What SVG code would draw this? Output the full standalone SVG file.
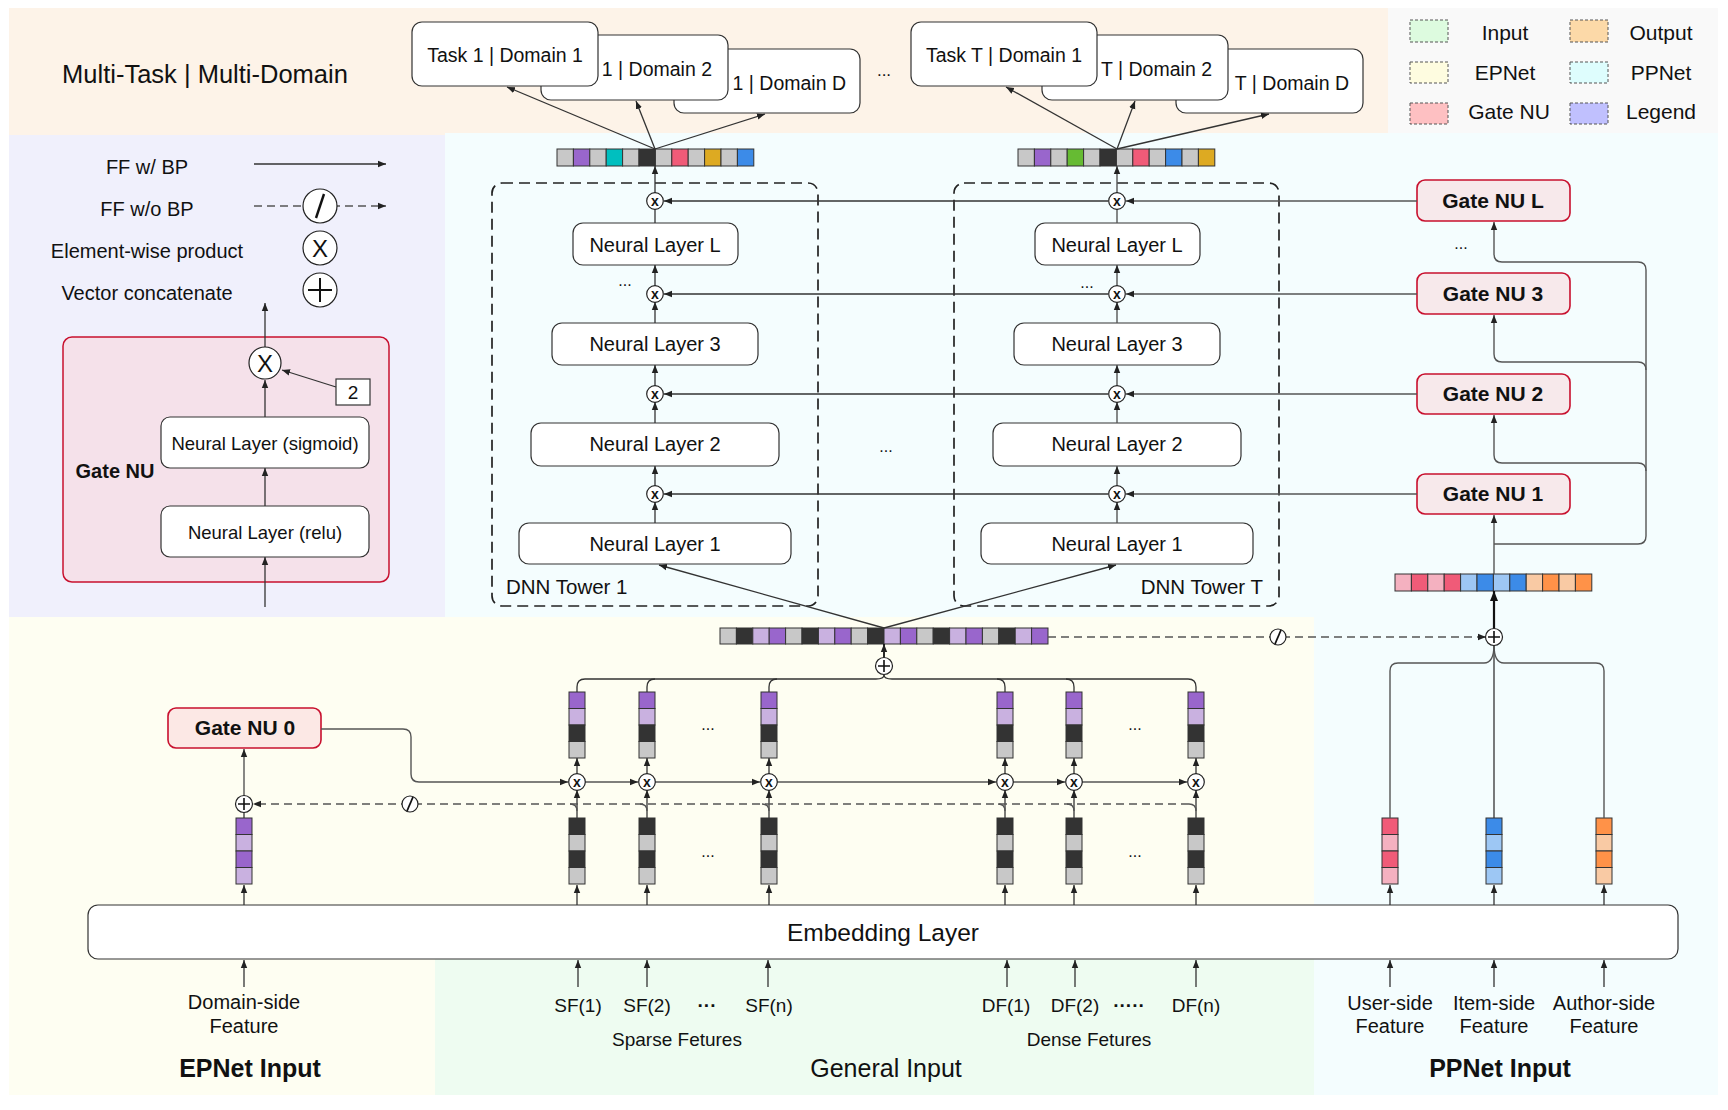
<svg xmlns="http://www.w3.org/2000/svg" width="1728" height="1110" viewBox="0 0 1728 1110">
<defs>
<marker id="ah" viewBox="0 0 10 10" refX="10" refY="5" markerWidth="8" markerHeight="8" markerUnits="userSpaceOnUse" orient="auto"><path d="M0,1 L10,5 L0,9 z" fill="#222"/></marker>
<marker id="ahb" viewBox="0 0 10 10" refX="10" refY="5" markerWidth="10" markerHeight="10" markerUnits="userSpaceOnUse" orient="auto"><path d="M0,1 L10,5 L0,9 z" fill="#111"/></marker>
</defs>
<style>
text{font-family:"Liberation Sans",Arial,Helvetica,sans-serif;fill:#111}
.t20{font-size:20px}
.t19{font-size:19px}
.mid{text-anchor:middle}
.end{text-anchor:end}
.b{font-weight:bold}
.ln{fill:none;stroke:#333;stroke-width:1.3}
.lg{fill:none;stroke:#555;stroke-width:1.4}
.dash{fill:none;stroke:#555;stroke-width:1.5;stroke-dasharray:8 5}
.box{fill:#fff;stroke:#333;stroke-width:1.2}
.gate{fill:#F7E9EB;stroke:#C8102E;stroke-width:1.6}
.cir{fill:#fff;stroke:#222;stroke-width:1.2}
.c{stroke:#333;stroke-width:1}
.G{fill:#C8C8C8}.P{fill:#9966CC}.T{fill:#00BFBF}.D{fill:#333333}.R{fill:#F05B78}.Y{fill:#DDAA22}.B{fill:#3C8BE8}.Gr{fill:#66BB33}.LP{fill:#C9B1E0}.LR{fill:#F4B1C0}.LB{fill:#9DC7F4}.O{fill:#FF9248}.LO{fill:#F9CAA4}
.sw{stroke:#555;stroke-width:1;stroke-dasharray:3 2}
.xs{font-size:14px;font-weight:bold;text-anchor:middle}
</style>

<g id="backgrounds">
<rect x="9" y="8" width="1379" height="127" fill="#FDF3E8"/>
<rect x="1388" y="8" width="330" height="125" fill="#F9F9F9"/>
<rect x="9" y="135" width="436" height="482" fill="#F0F0FC"/>
<rect x="445" y="133" width="1273" height="484" fill="#F4FDFE"/>
<rect x="1314" y="617" width="404" height="478" fill="#F4FDFE"/>
<rect x="9" y="617" width="1305" height="478" fill="#FEFEF2"/>
<rect x="435" y="906" width="879" height="189" fill="#EEFCF1"/>
</g>

<g id="title"><text x="205" y="83" class="mid" font-size="25.5">Multi-Task | Multi-Domain</text></g>

<g id="legend-colors">
<rect x="1410" y="20" width="38" height="22" fill="#DDFBDF" class="sw"/><text x="1505" y="40" class="mid" font-size="21">Input</text>
<rect x="1570" y="20" width="38" height="22" fill="#FCD9A8" class="sw"/><text x="1661" y="40" class="mid" font-size="21">Output</text>
<rect x="1410" y="62" width="38" height="21" fill="#FEFCE0" class="sw"/><text x="1505" y="80" class="mid" font-size="21">EPNet</text>
<rect x="1570" y="62" width="38" height="21" fill="#DEFDFD" class="sw"/><text x="1661" y="80" class="mid" font-size="21">PPNet</text>
<rect x="1410" y="103" width="38" height="21" fill="#FEC0C2" class="sw"/><text x="1509" y="119" class="mid" font-size="21">Gate NU</text>
<rect x="1570" y="103" width="38" height="21" fill="#C0C0FE" class="sw"/><text x="1661" y="119" class="mid" font-size="21">Legend</text>
</g>

<g id="legend">
<text x="147" y="174" class="mid t20">FF w/ BP</text>
<line x1="254" y1="164" x2="386" y2="164" class="ln" marker-end="url(#ah)"/>
<text x="147" y="216" class="mid t20">FF w/o BP</text>
<line x1="254" y1="206" x2="386" y2="206" class="dash" stroke="#333" marker-end="url(#ah)"/>
<circle cx="320" cy="206" r="17" class="cir"/>
<line x1="316" y1="218" x2="324" y2="194" stroke="#111" stroke-width="2.4"/>
<text x="147" y="258" class="mid t20">Element-wise product</text>
<circle cx="320" cy="248" r="17" class="cir"/>
<text x="320" y="257" class="mid" font-size="24">X</text>
<text x="147" y="300" class="mid t20">Vector concatenate</text>
<circle cx="320" cy="290" r="17" class="cir"/>
<path d="M308 290 H332 M320 278 V302" stroke="#111" stroke-width="2"/>
</g>

<g id="gate-nu-legend">
<rect x="63" y="337" width="326" height="245" rx="9" fill="#F5E1EA" stroke="#C8102E" stroke-width="1.5"/>
<text x="115" y="478" class="mid b t20">Gate NU</text>
<line x1="265" y1="347" x2="265" y2="303" class="ln" marker-end="url(#ah)"/>
<circle cx="265" cy="363" r="16" class="cir"/>
<text x="265" y="372" class="mid" font-size="24">X</text>
<rect x="336" y="379" width="34" height="26" fill="#fff" stroke="#333" stroke-width="1.2"/>
<text x="353" y="399" class="mid t19">2</text>
<line x1="336" y1="387" x2="282" y2="370" class="ln" marker-end="url(#ah)"/>
<rect x="161" y="417" width="208" height="51" rx="9" class="box"/>
<text x="265" y="450" class="mid" font-size="18.5">Neural Layer (sigmoid)</text>
<line x1="265" y1="417" x2="265" y2="380" class="ln" marker-end="url(#ah)"/>
<rect x="161" y="506" width="208" height="51" rx="9" class="box"/>
<text x="265" y="539" class="mid" font-size="18.5">Neural Layer (relu)</text>
<line x1="265" y1="506" x2="265" y2="468" class="ln" marker-end="url(#ah)"/>
<line x1="265" y1="607" x2="265" y2="557" class="ln" marker-end="url(#ah)"/>
</g>

<g id="outputs">
<rect x="674" y="49" width="186" height="64" rx="10" class="box"/><text x="846" y="90" class="end" font-size="19.5">1 | Domain D</text>
<rect x="541" y="35" width="187" height="65" rx="10" class="box"/><text x="712" y="76" class="end" font-size="19.5">1 | Domain 2</text>
<rect x="412" y="22" width="186" height="64" rx="10" class="box"/><text x="505" y="62" class="mid" font-size="19.5">Task 1 | Domain 1</text>
<rect x="1176" y="49" width="187" height="64" rx="10" class="box"/><text x="1349" y="90" class="end" font-size="19.5">T | Domain D</text>
<rect x="1042" y="35" width="186" height="65" rx="10" class="box"/><text x="1212" y="76" class="end" font-size="19.5">T | Domain 2</text>
<rect x="911" y="22" width="186" height="64" rx="10" class="box"/><text x="1004" y="62" class="mid" font-size="19.5">Task T | Domain 1</text>
<text x="884" y="76" class="mid" font-size="17">...</text>
</g>

<g id="vectors-top">
<g transform="translate(557,149)">
<rect x="0" width="16.4" height="17" class="c G"/><rect x="16.4" width="16.4" height="17" class="c P"/><rect x="32.8" width="16.4" height="17" class="c G"/><rect x="49.2" width="16.4" height="17" class="c T"/><rect x="65.6" width="16.4" height="17" class="c G"/><rect x="82" width="16.4" height="17" class="c D"/><rect x="98.4" width="16.4" height="17" class="c G"/><rect x="114.8" width="16.4" height="17" class="c R"/><rect x="131.2" width="16.4" height="17" class="c G"/><rect x="147.6" width="16.4" height="17" class="c Y"/><rect x="164" width="16.4" height="17" class="c G"/><rect x="180.4" width="16.4" height="17" class="c B"/>
</g>
<g transform="translate(1018,149)">
<rect x="0" width="16.4" height="17" class="c G"/><rect x="16.4" width="16.4" height="17" class="c P"/><rect x="32.8" width="16.4" height="17" class="c G"/><rect x="49.2" width="16.4" height="17" class="c Gr"/><rect x="65.6" width="16.4" height="17" class="c G"/><rect x="82" width="16.4" height="17" class="c D"/><rect x="98.4" width="16.4" height="17" class="c G"/><rect x="114.8" width="16.4" height="17" class="c R"/><rect x="131.2" width="16.4" height="17" class="c G"/><rect x="147.6" width="16.4" height="17" class="c B"/><rect x="164" width="16.4" height="17" class="c G"/><rect x="180.4" width="16.4" height="17" class="c Y"/>
</g>
<g transform="translate(1395,574)">
<rect x="0" width="16.4" height="17" class="c LR"/><rect x="16.4" width="16.4" height="17" class="c R"/><rect x="32.8" width="16.4" height="17" class="c LR"/><rect x="49.2" width="16.4" height="17" class="c R"/><rect x="65.6" width="16.4" height="17" class="c LB"/><rect x="82" width="16.4" height="17" class="c B"/><rect x="98.4" width="16.4" height="17" class="c LB"/><rect x="114.8" width="16.4" height="17" class="c B"/><rect x="131.2" width="16.4" height="17" class="c LO"/><rect x="147.6" width="16.4" height="17" class="c O"/><rect x="164" width="16.4" height="17" class="c LO"/><rect x="180.4" width="16.4" height="17" class="c O"/>
</g>
<g transform="translate(720,628)">
<rect x="0" width="16.4" height="16" class="c G"/><rect x="16.4" width="16.4" height="16" class="c D"/><rect x="32.8" width="16.4" height="16" class="c LP"/><rect x="49.2" width="16.4" height="16" class="c P"/><rect x="65.6" width="16.4" height="16" class="c G"/><rect x="82" width="16.4" height="16" class="c D"/><rect x="98.4" width="16.4" height="16" class="c LP"/><rect x="114.8" width="16.4" height="16" class="c P"/><rect x="131.2" width="16.4" height="16" class="c G"/><rect x="147.6" width="16.4" height="16" class="c D"/><rect x="164" width="16.4" height="16" class="c LP"/><rect x="180.4" width="16.4" height="16" class="c P"/><rect x="196.8" width="16.4" height="16" class="c G"/><rect x="213.2" width="16.4" height="16" class="c D"/><rect x="229.6" width="16.4" height="16" class="c LP"/><rect x="246" width="16.4" height="16" class="c P"/><rect x="262.4" width="16.4" height="16" class="c G"/><rect x="278.8" width="16.4" height="16" class="c D"/><rect x="295.2" width="16.4" height="16" class="c LP"/><rect x="311.6" width="16.4" height="16" class="c P"/>
</g>
</g>

<g id="tower-1">
<rect x="492" y="183" width="326" height="423" rx="10" fill="none" stroke="#222" stroke-width="1.7" stroke-dasharray="11 6"/>
<rect x="573" y="223" width="165" height="42" rx="10" class="box"/><text x="655" y="252" class="mid t20">Neural Layer L</text>
<rect x="552" y="323" width="206" height="42" rx="10" class="box"/><text x="655" y="351" class="mid t20">Neural Layer 3</text>
<rect x="531" y="423" width="248" height="43" rx="10" class="box"/><text x="655" y="451" class="mid t20">Neural Layer 2</text>
<rect x="519" y="523" width="272" height="41" rx="10" class="box"/><text x="655" y="551" class="mid t20">Neural Layer 1</text>
<text x="625" y="286" class="mid" font-size="16">...</text>
<text x="506" y="594" font-size="20.5">DNN Tower 1</text>
</g>
<g id="tower-T">
<rect x="954" y="183" width="325" height="423" rx="10" fill="none" stroke="#222" stroke-width="1.7" stroke-dasharray="11 6"/>
<rect x="1035" y="223" width="165" height="42" rx="10" class="box"/><text x="1117" y="252" class="mid t20">Neural Layer L</text>
<rect x="1014" y="323" width="206" height="42" rx="10" class="box"/><text x="1117" y="351" class="mid t20">Neural Layer 3</text>
<rect x="993" y="423" width="248" height="43" rx="10" class="box"/><text x="1117" y="451" class="mid t20">Neural Layer 2</text>
<rect x="981" y="523" width="272" height="41" rx="10" class="box"/><text x="1117" y="551" class="mid t20">Neural Layer 1</text>
<text x="1087" y="288" class="mid" font-size="16">...</text>
<text x="1263" y="594" class="end" font-size="20.5">DNN Tower T</text>
</g>
<text x="886" y="452" class="mid" font-size="16">...</text>

<g id="gates">
<rect x="1417" y="180" width="153" height="41" rx="8" class="gate"/><text x="1493" y="208" class="mid b" font-size="21">Gate NU L</text>
<text x="1461" y="249" class="mid" font-size="16">...</text>
<rect x="1417" y="273" width="153" height="41" rx="8" class="gate"/><text x="1493" y="301" class="mid b" font-size="21">Gate NU 3</text>
<rect x="1417" y="374" width="153" height="40" rx="8" class="gate"/><text x="1493" y="401" class="mid b" font-size="21">Gate NU 2</text>
<rect x="1417" y="474" width="153" height="40" rx="8" class="gate"/><text x="1493" y="501" class="mid b" font-size="21">Gate NU 1</text>
<rect x="168" y="708" width="153" height="40" rx="8" fill="#FCE8E5" stroke="#C8102E" stroke-width="1.6"/><text x="245" y="735" class="mid b" font-size="21">Gate NU 0</text>
</g>

<g id="embedding">
<rect x="88" y="905" width="1590" height="54" rx="10" class="box"/>
<text x="883" y="941" class="mid" font-size="24.5">Embedding Layer</text>
</g>

<g id="vectors-vertical">
<g transform="translate(236,818)"><rect width="16" height="16.5" class="c P"/><rect y="16.5" width="16" height="16.5" class="c LP"/><rect y="33" width="16" height="16.5" class="c P"/><rect y="49.5" width="16" height="16.5" class="c LP"/></g>
<g transform="translate(569,818)"><rect width="16" height="16.5" class="c D"/><rect y="16.5" width="16" height="16.5" class="c G"/><rect y="33" width="16" height="16.5" class="c D"/><rect y="49.5" width="16" height="16.5" class="c G"/></g>
<g transform="translate(639,818)"><rect width="16" height="16.5" class="c D"/><rect y="16.5" width="16" height="16.5" class="c G"/><rect y="33" width="16" height="16.5" class="c D"/><rect y="49.5" width="16" height="16.5" class="c G"/></g>
<g transform="translate(761,818)"><rect width="16" height="16.5" class="c D"/><rect y="16.5" width="16" height="16.5" class="c G"/><rect y="33" width="16" height="16.5" class="c D"/><rect y="49.5" width="16" height="16.5" class="c G"/></g>
<g transform="translate(997,818)"><rect width="16" height="16.5" class="c D"/><rect y="16.5" width="16" height="16.5" class="c G"/><rect y="33" width="16" height="16.5" class="c D"/><rect y="49.5" width="16" height="16.5" class="c G"/></g>
<g transform="translate(1066,818)"><rect width="16" height="16.5" class="c D"/><rect y="16.5" width="16" height="16.5" class="c G"/><rect y="33" width="16" height="16.5" class="c D"/><rect y="49.5" width="16" height="16.5" class="c G"/></g>
<g transform="translate(1188,818)"><rect width="16" height="16.5" class="c D"/><rect y="16.5" width="16" height="16.5" class="c G"/><rect y="33" width="16" height="16.5" class="c D"/><rect y="49.5" width="16" height="16.5" class="c G"/></g>
<g transform="translate(569,692)"><rect width="16" height="16.5" class="c P"/><rect y="16.5" width="16" height="16.5" class="c LP"/><rect y="33" width="16" height="16.5" class="c D"/><rect y="49.5" width="16" height="16.5" class="c G"/></g>
<g transform="translate(639,692)"><rect width="16" height="16.5" class="c P"/><rect y="16.5" width="16" height="16.5" class="c LP"/><rect y="33" width="16" height="16.5" class="c D"/><rect y="49.5" width="16" height="16.5" class="c G"/></g>
<g transform="translate(761,692)"><rect width="16" height="16.5" class="c P"/><rect y="16.5" width="16" height="16.5" class="c LP"/><rect y="33" width="16" height="16.5" class="c D"/><rect y="49.5" width="16" height="16.5" class="c G"/></g>
<g transform="translate(997,692)"><rect width="16" height="16.5" class="c P"/><rect y="16.5" width="16" height="16.5" class="c LP"/><rect y="33" width="16" height="16.5" class="c D"/><rect y="49.5" width="16" height="16.5" class="c G"/></g>
<g transform="translate(1066,692)"><rect width="16" height="16.5" class="c P"/><rect y="16.5" width="16" height="16.5" class="c LP"/><rect y="33" width="16" height="16.5" class="c D"/><rect y="49.5" width="16" height="16.5" class="c G"/></g>
<g transform="translate(1188,692)"><rect width="16" height="16.5" class="c P"/><rect y="16.5" width="16" height="16.5" class="c LP"/><rect y="33" width="16" height="16.5" class="c D"/><rect y="49.5" width="16" height="16.5" class="c G"/></g>
<g transform="translate(1382,818)"><rect width="16" height="16.5" class="c R"/><rect y="16.5" width="16" height="16.5" class="c LR"/><rect y="33" width="16" height="16.5" class="c R"/><rect y="49.5" width="16" height="16.5" class="c LR"/></g>
<g transform="translate(1486,818)"><rect width="16" height="16.5" class="c B"/><rect y="16.5" width="16" height="16.5" class="c LB"/><rect y="33" width="16" height="16.5" class="c B"/><rect y="49.5" width="16" height="16.5" class="c LB"/></g>
<g transform="translate(1596,818)"><rect width="16" height="16.5" class="c O"/><rect y="16.5" width="16" height="16.5" class="c LO"/><rect y="33" width="16" height="16.5" class="c O"/><rect y="49.5" width="16" height="16.5" class="c LO"/></g>
<text x="708" y="730" class="mid" font-size="16">...</text>
<text x="1135" y="730" class="mid" font-size="16">...</text>
<text x="708" y="857" class="mid" font-size="16">...</text>
<text x="1135" y="857" class="mid" font-size="16">...</text>
</g>

<g id="connectors">
<line x1="655" y1="149" x2="507" y2="87" class="ln" marker-end="url(#ah)"/>
<line x1="655" y1="149" x2="636" y2="101" class="ln" marker-end="url(#ah)"/>
<line x1="655" y1="149" x2="765" y2="114" class="ln" marker-end="url(#ah)"/>
<line x1="1117" y1="149" x2="1006" y2="87" class="ln" marker-end="url(#ah)"/>
<line x1="1117" y1="149" x2="1135" y2="101" class="ln" marker-end="url(#ah)"/>
<line x1="1117" y1="149" x2="1269" y2="114" class="ln" marker-end="url(#ah)"/>
<line x1="655" y1="193" x2="655" y2="166" class="ln" marker-end="url(#ah)"/>
<line x1="655" y1="223" x2="655" y2="209" class="ln"/>
<line x1="655" y1="286" x2="655" y2="265" class="ln" marker-end="url(#ah)"/>
<line x1="655" y1="323" x2="655" y2="302" class="ln" marker-end="url(#ah)"/>
<line x1="655" y1="386" x2="655" y2="365" class="ln" marker-end="url(#ah)"/>
<line x1="655" y1="423" x2="655" y2="402" class="ln" marker-end="url(#ah)"/>
<line x1="655" y1="486" x2="655" y2="466" class="ln" marker-end="url(#ah)"/>
<line x1="655" y1="523" x2="655" y2="502" class="ln" marker-end="url(#ah)"/>
<line x1="1117" y1="193" x2="1117" y2="166" class="lg" marker-end="url(#ah)"/>
<line x1="1117" y1="223" x2="1117" y2="209" class="lg"/>
<line x1="1117" y1="286" x2="1117" y2="265" class="lg" marker-end="url(#ah)"/>
<line x1="1117" y1="323" x2="1117" y2="302" class="lg" marker-end="url(#ah)"/>
<line x1="1117" y1="386" x2="1117" y2="365" class="lg" marker-end="url(#ah)"/>
<line x1="1117" y1="423" x2="1117" y2="402" class="lg" marker-end="url(#ah)"/>
<line x1="1117" y1="486" x2="1117" y2="466" class="lg" marker-end="url(#ah)"/>
<line x1="1117" y1="523" x2="1117" y2="502" class="lg" marker-end="url(#ah)"/>
<line x1="1417" y1="201" x2="1126" y2="201" class="lg" marker-end="url(#ah)"/>
<line x1="1108" y1="201" x2="664" y2="201" class="ln" marker-end="url(#ah)"/>
<line x1="1417" y1="294" x2="1126" y2="294" class="lg" marker-end="url(#ah)"/>
<line x1="1108" y1="294" x2="664" y2="294" class="ln" marker-end="url(#ah)"/>
<line x1="1417" y1="394" x2="1126" y2="394" class="lg" marker-end="url(#ah)"/>
<line x1="1108" y1="394" x2="664" y2="394" class="ln" marker-end="url(#ah)"/>
<line x1="1417" y1="494" x2="1126" y2="494" class="lg" marker-end="url(#ah)"/>
<line x1="1108" y1="494" x2="664" y2="494" class="ln" marker-end="url(#ah)"/>
<line x1="1494" y1="574" x2="1494" y2="515" class="lg" marker-end="url(#ah)"/>
<path d="M1494 544 H1638 Q1646 544 1646 536 V270 Q1646 262 1638 262 H1502 Q1494 262 1494 254 V222" class="lg" marker-end="url(#ah)"/>
<path d="M1646 370 Q1646 362 1638 362 H1502 Q1494 362 1494 354 V315" class="lg" marker-end="url(#ah)"/>
<path d="M1646 471 Q1646 463 1638 463 H1502 Q1494 463 1494 455 V415" class="lg" marker-end="url(#ah)"/>
<line x1="1494" y1="629" x2="1494" y2="591" stroke="#111" stroke-width="2.2" marker-end="url(#ahb)"/>
<line x1="1494" y1="645" x2="1494" y2="818" class="ln"/>
<path d="M1494 645 Q1494 663 1484 663 H1398 Q1390 663 1390 671 V818" class="lg"/>
<path d="M1494 645 Q1494 663 1504 663 H1596 Q1604 663 1604 671 V818" class="lg"/>
<line x1="1048" y1="637" x2="1486" y2="637" class="dash" marker-end="url(#ah)"/>
<line x1="884" y1="628" x2="659" y2="565" class="ln" marker-end="url(#ah)"/>
<line x1="884" y1="628" x2="1116" y2="565" class="ln" marker-end="url(#ah)"/>
<line x1="884" y1="658" x2="884" y2="644" stroke="#111" stroke-width="1.8" marker-end="url(#ah)"/>
<path d="M577 692 V687 Q577 679 585 679 H876 Q884 679 884 675" class="ln"/>
<path d="M647 692 V687 Q647 679 655 679" class="ln"/>
<path d="M769 692 V687 Q769 679 777 679" class="ln"/>
<path d="M1196 692 V687 Q1196 679 1188 679 H892 Q884 679 884 675" class="ln"/>
<path d="M1074 692 V687 Q1074 679 1066 679" class="ln"/>
<path d="M1005 692 V687 Q1005 679 997 679" class="ln"/>
<line x1="577" y1="774" x2="577" y2="758" class="ln" marker-end="url(#ah)"/>
<line x1="647" y1="774" x2="647" y2="758" class="ln" marker-end="url(#ah)"/>
<line x1="769" y1="774" x2="769" y2="758" class="ln" marker-end="url(#ah)"/>
<line x1="1005" y1="774" x2="1005" y2="758" class="ln" marker-end="url(#ah)"/>
<line x1="1074" y1="774" x2="1074" y2="758" class="ln" marker-end="url(#ah)"/>
<line x1="1196" y1="774" x2="1196" y2="758" class="ln" marker-end="url(#ah)"/>
<line x1="577" y1="818" x2="577" y2="790" class="ln" marker-end="url(#ah)"/>
<line x1="647" y1="818" x2="647" y2="790" class="ln" marker-end="url(#ah)"/>
<line x1="769" y1="818" x2="769" y2="790" class="ln" marker-end="url(#ah)"/>
<line x1="1005" y1="818" x2="1005" y2="790" class="ln" marker-end="url(#ah)"/>
<line x1="1074" y1="818" x2="1074" y2="790" class="ln" marker-end="url(#ah)"/>
<line x1="1196" y1="818" x2="1196" y2="790" class="ln" marker-end="url(#ah)"/>
<path d="M321 729 H403 Q411 729 411 737 V774 Q411 782 419 782 H568" class="lg" marker-end="url(#ah)"/>
<line x1="585" y1="782" x2="638" y2="782" class="lg" marker-end="url(#ah)"/>
<line x1="655" y1="782" x2="760" y2="782" class="lg" marker-end="url(#ah)"/>
<line x1="777" y1="782" x2="996" y2="782" class="lg" marker-end="url(#ah)"/>
<line x1="1013" y1="782" x2="1065" y2="782" class="lg" marker-end="url(#ah)"/>
<line x1="1082" y1="782" x2="1187" y2="782" class="lg" marker-end="url(#ah)"/>
<line x1="1189" y1="804" x2="253" y2="804" class="dash" marker-end="url(#ah)"/>
<path d="M570 804 Q577 804 577 811 M640 804 Q647 804 647 811 M762 804 Q769 804 769 811 M998 804 Q1005 804 1005 811 M1067 804 Q1074 804 1074 811 M1189 804 Q1196 804 1196 811" class="lg"/>
<line x1="244" y1="818" x2="244" y2="812" class="ln"/>
<line x1="244" y1="796" x2="244" y2="749" class="lg" marker-end="url(#ah)"/>
<line x1="244" y1="905" x2="244" y2="885" class="ln" marker-end="url(#ah)"/>
<line x1="577" y1="905" x2="577" y2="885" class="ln" marker-end="url(#ah)"/>
<line x1="647" y1="905" x2="647" y2="885" class="ln" marker-end="url(#ah)"/>
<line x1="769" y1="905" x2="769" y2="885" class="ln" marker-end="url(#ah)"/>
<line x1="1005" y1="905" x2="1005" y2="885" class="ln" marker-end="url(#ah)"/>
<line x1="1074" y1="905" x2="1074" y2="885" class="ln" marker-end="url(#ah)"/>
<line x1="1196" y1="905" x2="1196" y2="885" class="ln" marker-end="url(#ah)"/>
<line x1="1390" y1="905" x2="1390" y2="885" class="ln" marker-end="url(#ah)"/>
<line x1="1494" y1="905" x2="1494" y2="885" class="ln" marker-end="url(#ah)"/>
<line x1="1604" y1="905" x2="1604" y2="885" class="ln" marker-end="url(#ah)"/>
<line x1="244" y1="987" x2="244" y2="960" class="ln" marker-end="url(#ah)"/>
<line x1="578" y1="987" x2="578" y2="960" class="ln" marker-end="url(#ah)"/>
<line x1="647" y1="987" x2="647" y2="960" class="ln" marker-end="url(#ah)"/>
<line x1="768" y1="987" x2="768" y2="960" class="ln" marker-end="url(#ah)"/>
<line x1="1007" y1="987" x2="1007" y2="960" class="ln" marker-end="url(#ah)"/>
<line x1="1075" y1="987" x2="1075" y2="960" class="ln" marker-end="url(#ah)"/>
<line x1="1196" y1="987" x2="1196" y2="960" class="ln" marker-end="url(#ah)"/>
<line x1="1390" y1="987" x2="1390" y2="960" class="ln" marker-end="url(#ah)"/>
<line x1="1494" y1="987" x2="1494" y2="960" class="ln" marker-end="url(#ah)"/>
<line x1="1604" y1="987" x2="1604" y2="960" class="ln" marker-end="url(#ah)"/>
</g>

<g id="operators">
<circle cx="655" cy="201" r="8.3" class="cir"/><text x="655" y="206" class="xs">x</text>
<circle cx="655" cy="294" r="8.3" class="cir"/><text x="655" y="299" class="xs">x</text>
<circle cx="655" cy="394" r="8.3" class="cir"/><text x="655" y="399" class="xs">x</text>
<circle cx="655" cy="494" r="8.3" class="cir"/><text x="655" y="499" class="xs">x</text>
<circle cx="1117" cy="201" r="8.3" class="cir"/><text x="1117" y="206" class="xs">x</text>
<circle cx="1117" cy="294" r="8.3" class="cir"/><text x="1117" y="299" class="xs">x</text>
<circle cx="1117" cy="394" r="8.3" class="cir"/><text x="1117" y="399" class="xs">x</text>
<circle cx="1117" cy="494" r="8.3" class="cir"/><text x="1117" y="499" class="xs">x</text>
<circle cx="577" cy="782" r="8.3" class="cir"/><text x="577" y="787" class="xs">x</text>
<circle cx="647" cy="782" r="8.3" class="cir"/><text x="647" y="787" class="xs">x</text>
<circle cx="769" cy="782" r="8.3" class="cir"/><text x="769" y="787" class="xs">x</text>
<circle cx="1005" cy="782" r="8.3" class="cir"/><text x="1005" y="787" class="xs">x</text>
<circle cx="1074" cy="782" r="8.3" class="cir"/><text x="1074" y="787" class="xs">x</text>
<circle cx="1196" cy="782" r="8.3" class="cir"/><text x="1196" y="787" class="xs">x</text>
<circle cx="884" cy="666" r="8.5" class="cir"/><path d="M878 666 H890 M884 660 V672" stroke="#111" stroke-width="1.6"/>
<circle cx="1494" cy="637" r="8.5" class="cir"/><path d="M1488 637 H1500 M1494 631 V643" stroke="#111" stroke-width="1.6"/>
<circle cx="244" cy="804" r="8.5" class="cir"/><path d="M238 804 H250 M244 798 V810" stroke="#111" stroke-width="1.6"/>
<circle cx="1278" cy="637" r="8" class="cir"/><line x1="1275" y1="644" x2="1281" y2="630" stroke="#111" stroke-width="1.8"/>
<circle cx="410" cy="804" r="8" class="cir"/><line x1="407" y1="811" x2="413" y2="797" stroke="#111" stroke-width="1.8"/>
</g>

<g id="inputs">
<text x="244" y="1009" class="mid t20">Domain-side</text>
<text x="244" y="1033" class="mid t20">Feature</text>
<text x="250" y="1077" class="mid b" font-size="25">EPNet Input</text>
<text x="578" y="1012" class="mid t19">SF(1)</text>
<text x="647" y="1012" class="mid t19">SF(2)</text>
<text x="707" y="1012" class="mid b t19">···</text>
<text x="769" y="1012" class="mid t19">SF(n)</text>
<text x="677" y="1046" class="mid t19">Sparse Fetures</text>
<text x="1006" y="1012" class="mid t19">DF(1)</text>
<text x="1075" y="1012" class="mid t19">DF(2)</text>
<text x="1129" y="1012" class="mid b t19">·····</text>
<text x="1196" y="1012" class="mid t19">DF(n)</text>
<text x="1089" y="1046" class="mid t19">Dense Fetures</text>
<text x="886" y="1077" class="mid" font-size="25">General Input</text>
<text x="1390" y="1010" class="mid t20">User-side</text>
<text x="1390" y="1033" class="mid t20">Feature</text>
<text x="1494" y="1010" class="mid t20">Item-side</text>
<text x="1494" y="1033" class="mid t20">Feature</text>
<text x="1604" y="1010" class="mid t20">Author-side</text>
<text x="1604" y="1033" class="mid t20">Feature</text>
<text x="1500" y="1077" class="mid b" font-size="25">PPNet Input</text>
</g>
</svg>
